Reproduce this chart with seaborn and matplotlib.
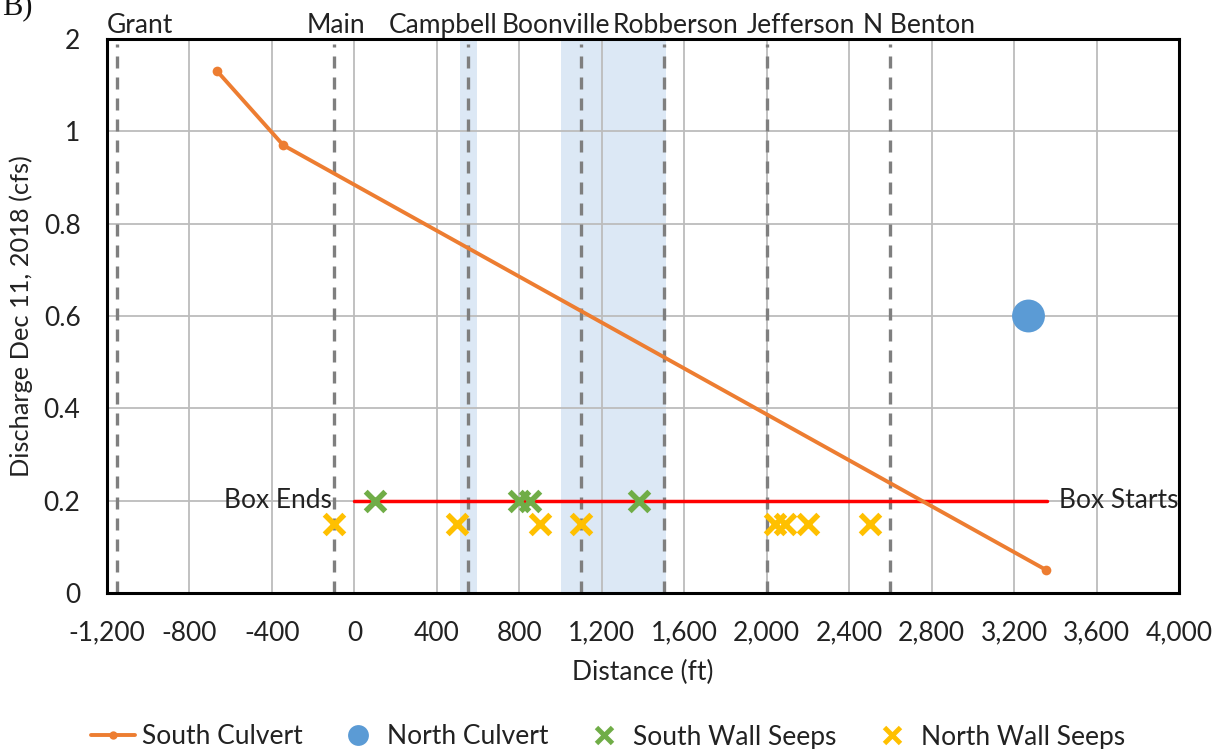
import numpy as np
import pandas as pd
import matplotlib
matplotlib.use("Agg")
import matplotlib.pyplot as plt
import seaborn as sns
from matplotlib.lines import Line2D

# ---- data ----
south_culvert_x = [-665, -345, 3355]
south_culvert_y = [1.13, 0.97, 0.05]
north_culvert_x = [3270]
north_culvert_y = [0.60]
south_seeps_x = [100, 800, 850, 1380]
south_seeps_y = [0.20, 0.20, 0.20, 0.20]
north_seeps_x = [-100, 500, 900, 1100, 2040, 2090, 2200, 2500]
north_seeps_y = [0.15, 0.15, 0.15, 0.15, 0.15, 0.15, 0.15, 0.15]
street_names = ["Grant", "Main", "Campbell", "Boonville", "Robberson", "Jefferson", "N Benton"]
street_x = [-1150, -100, 550, 1100, 1500, 2000, 2600]
street_label_x = [-1040, -90, 430, 975, 1560, 2165, 2740]
bands = [(510, 595), (1000, 1510)]
box_line_x = [0, 3360]
box_line_y = [0.2, 0.2]
x_ticks = list(range(-1200, 4001, 400))
x_tick_labels = [f"{v:,}" for v in x_ticks]
y_ticks = [0, 0.2, 0.4, 0.6, 0.8, 1.0, 1.2]
y_tick_labels = ["0", "0.2", "0.4", "0.6", "0.8", "1", "2"]

ORANGE = "#ED7D31"
BLUE = "#5B9BD5"
GREEN = "#70AD47"
YELLOW = "#FFC000"
TXT = "#222222"

sns.set_theme(style="white")
plt.rcParams["font.family"] = ["Lato", "DejaVu Sans"]
FS = 19

fig = plt.figure(figsize=(12.23, 7.49), dpi=100)
ax = fig.add_axes([107 / 1223, 1 - 593 / 749, (1179 - 107) / 1223, (593 - 39) / 749])

# shaded bands
for a, b in bands:
    ax.axvspan(a, b, color="#DCE8F5", zorder=0.3, lw=0)

# street dashed lines
ax.vlines(street_x, 0, 1.19, colors="#7F7F7F", linestyles=(0, (3.6, 2.7)), lw=2.4, zorder=1)

# red box line
sns.lineplot(x=box_line_x, y=box_line_y, ax=ax, color="#FF0000", lw=2.5, zorder=2)

# south culvert
df_sc = pd.DataFrame({"x": south_culvert_x, "y": south_culvert_y})
sns.lineplot(data=df_sc, x="x", y="y", ax=ax, color=ORANGE, lw=2.8, marker="o",
             markersize=7, markeredgewidth=0, sort=False, zorder=3)

# north culvert
sns.scatterplot(x=north_culvert_x, y=north_culvert_y, ax=ax, color=BLUE, s=560,
                edgecolor="none", zorder=4)

# seeps
sns.scatterplot(x=south_seeps_x, y=south_seeps_y, ax=ax, color=GREEN, marker="x",
                s=200, linewidth=4, zorder=4)
sns.scatterplot(x=north_seeps_x, y=north_seeps_y, ax=ax, color=YELLOW, marker="x",
                s=200, linewidth=4, zorder=4)

ax.set_xlim(-1200, 4000)
ax.set_ylim(0, 1.2)
ax.set_xticks(x_ticks)
ax.set_xticklabels(x_tick_labels, fontsize=FS)
ax.set_yticks(y_ticks)
ax.set_yticklabels(y_tick_labels, fontsize=FS)
ax.tick_params(axis="x", length=0, pad=20, colors=TXT)
ax.tick_params(axis="y", length=0, pad=19, colors=TXT)
ax.grid(True, color="#BCBCBC", lw=1.3)
ax.set_axisbelow(True)
for s in ax.spines.values():
    s.set_color("black")
    s.set_linewidth(2.2)
    s.set_visible(True)

ax.set_xlabel("Distance (ft)", fontsize=FS, labelpad=10, color=TXT)
ax.set_ylabel("Discharge Dec 11, 2018 (cfs)", fontsize=18.3, labelpad=8, color=TXT)

# street labels
for name, lx in zip(street_names, street_label_x):
    ax.text(lx, 1.203, name, fontsize=FS, ha="center", va="bottom", color=TXT,
            clip_on=False)

ax.text(-110, 0.2, "Box Ends", fontsize=FS, ha="right", va="center", color=TXT)
ax.text(3420, 0.2, "Box Starts", fontsize=FS, ha="left", va="center", color=TXT)

fig.text(0.002, 1 - 14 / 749, "B)", fontsize=22, family="Liberation Serif",
         ha="left", va="baseline", color="#111111")

handles = [
    Line2D([0], [0], color=ORANGE, lw=2.8, marker="o", markersize=6, markeredgewidth=0),
    Line2D([0], [0], color=BLUE, lw=0, marker="o", markersize=15, markeredgewidth=0),
    Line2D([0], [0], color=GREEN, lw=0, marker="x", markersize=11, markeredgewidth=3.5),
    Line2D([0], [0], color=YELLOW, lw=0, marker="x", markersize=11, markeredgewidth=3.5),
]
labels = ["South Culvert", "North Culvert", "South Wall Seeps", "North Wall Seeps"]
leg = fig.legend(handles, labels, loc="center", bbox_to_anchor=(0.497, 1 - 737 / 749),
                 ncol=4, frameon=False, fontsize=FS, columnspacing=1.25,
                 handlelength=1.7, handletextpad=0.25)
for t in leg.get_texts():
    t.set_color(TXT)

fig.savefig("out.png", dpi=100)
